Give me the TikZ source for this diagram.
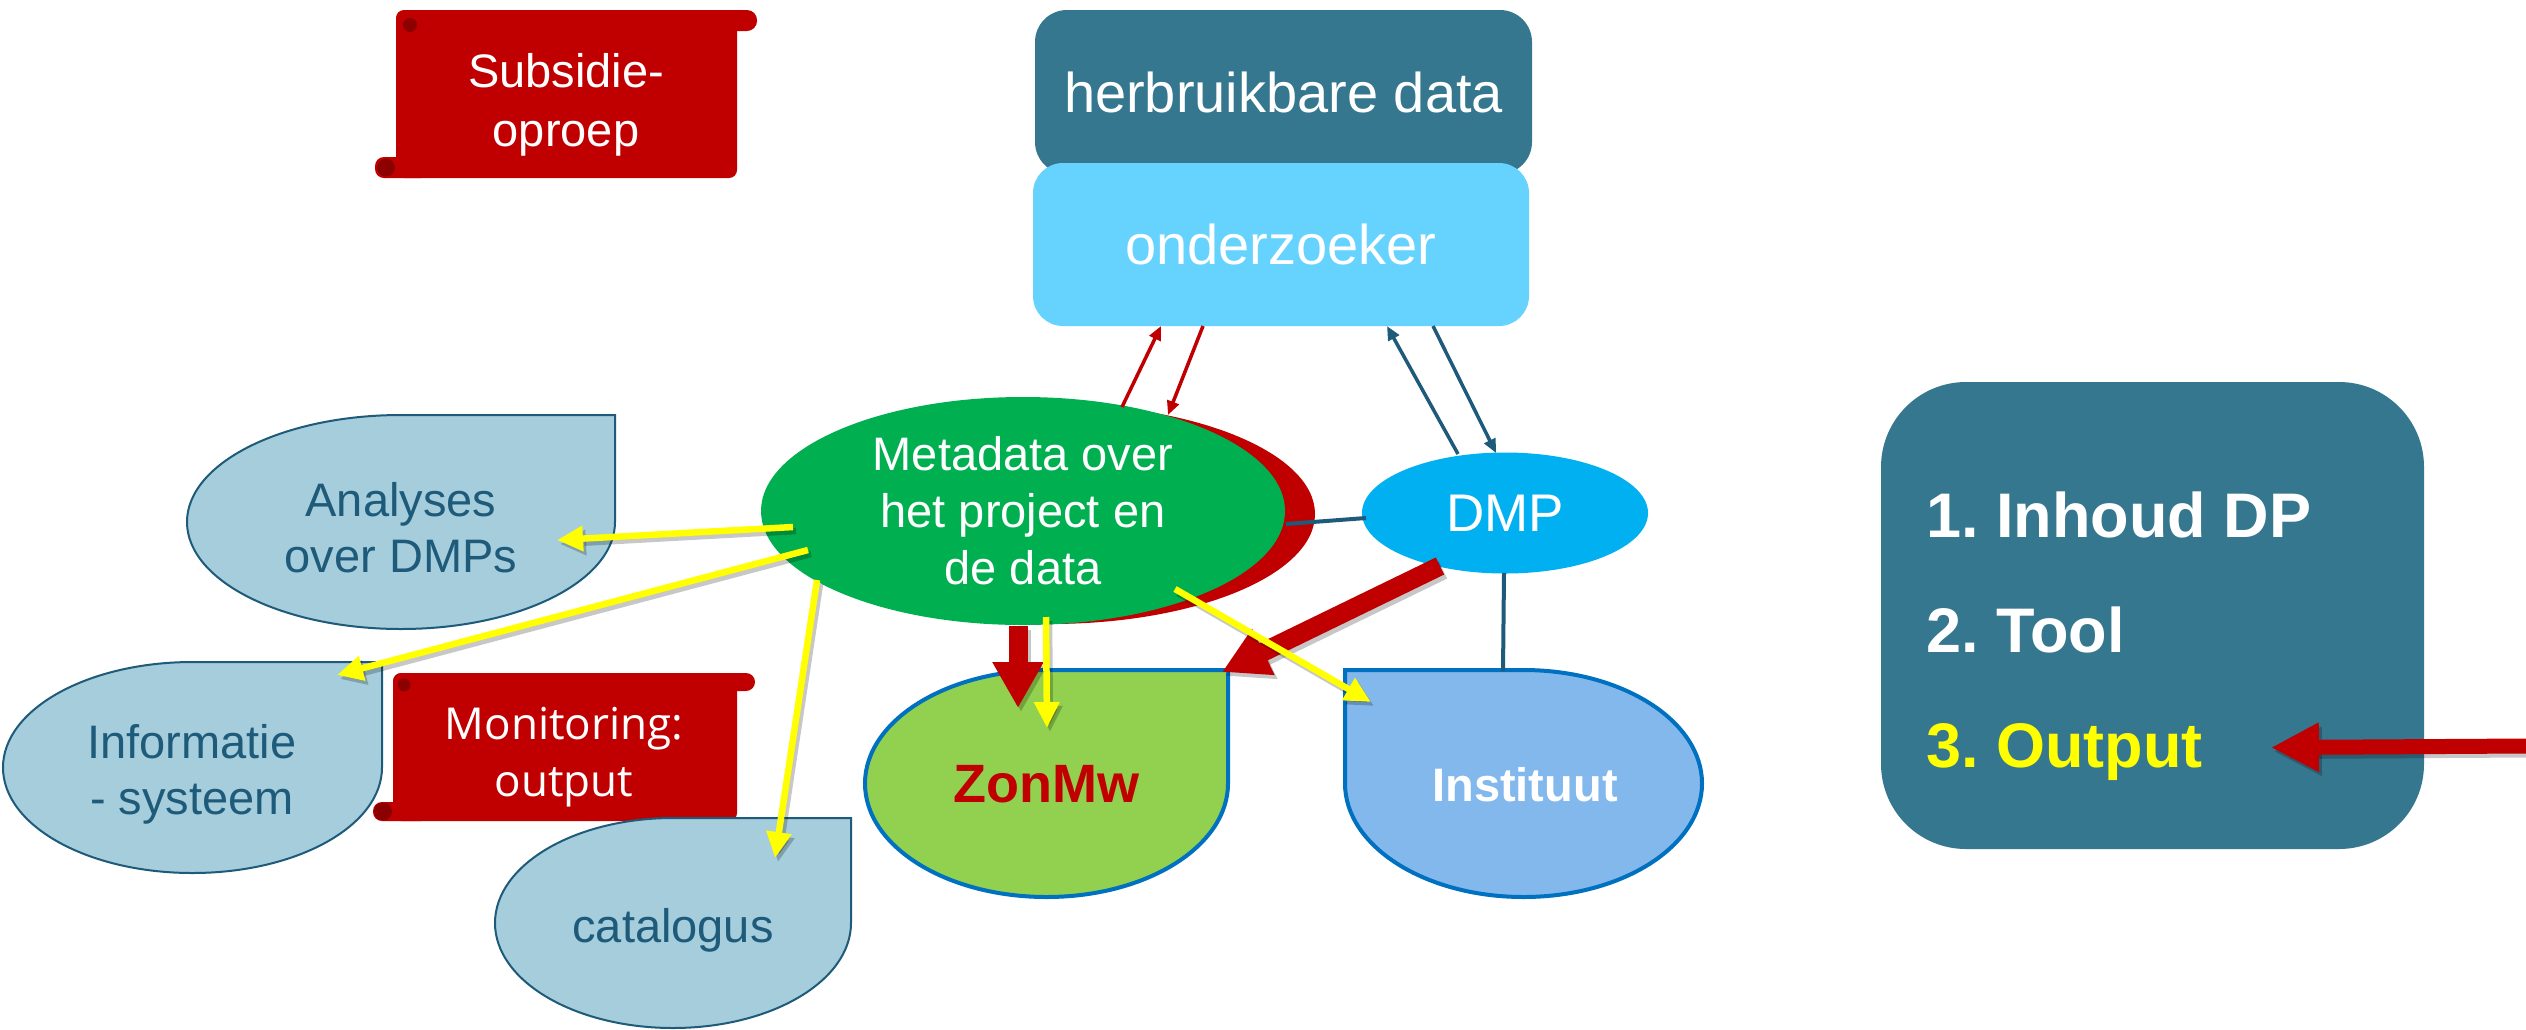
\documentclass[tikz,border=0pt]{standalone}
\usepackage{fontspec}
\setmainfont{Liberation Sans}
\newfontfamily\osans{Open Sans}
\usetikzlibrary{arrows.meta,shapes.geometric,calc}
\frenchspacing
\definecolor{teal1}{RGB}{53,119,143}
\definecolor{skyb}{RGB}{102,211,255}
\definecolor{gr}{RGB}{0,176,80}
\definecolor{rd}{RGB}{192,0,0}
\definecolor{drd}{RGB}{140,0,0}
\definecolor{dmpc}{RGB}{0,176,240}
\definecolor{lgreen}{RGB}{146,208,80}
\definecolor{instc}{RGB}{131,184,236}
\definecolor{bord}{RGB}{0,112,192}
\definecolor{lbl}{RGB}{165,205,220}
\definecolor{dteal}{RGB}{30,90,122}
\definecolor{ylw}{RGB}{255,255,0}
\begin{document}
\begin{tikzpicture}[x=1pt,y=-1pt,
  lbshape/.style={fill=lbl, draw=dteal, line width=2pt},
  bigshape/.style={draw=bord, line width=4pt},
  lbtext/.style={text=dteal, align=center, inner sep=0pt, font=\fontsize{47}{56}\selectfont},
  stext/.style={text=white, align=center, inner sep=0pt},
  ptext/.style={text=white, inner sep=0pt, font=\bfseries\fontsize{63}{70}\selectfont},
  yarr/.style={draw=ylw, line width=6.5pt, -{Triangle[length=26pt,width=24pt]}},
  rthick/.style={draw=rd, line width=19pt, -{Triangle[length=46pt,width=48pt]}},
  rarr/.style={draw=rd, line width=15pt, -{Triangle[length=48pt,width=46pt]}},
  thinr/.style={draw=rd, line width=3.5pt, -{Triangle[length=14pt,width=12pt]}},
  thint/.style={draw=dteal, line width=3.5pt, -{Triangle[length=14pt,width=12pt]}},
  tline/.style={draw=dteal, line width=4pt},
  shad/.style={draw=black, opacity=0.22, transform canvas={shift={(3pt,-4pt)}}}
]
\useasboundingbox (0,0) rectangle (2526,1029);
\fill[white] (0,0) rectangle (2526,1029);

% Subsidie scroll
\fill[rd, rounded corners=8pt] (396,10) rectangle (737,178);
\fill[rd, rounded corners=10pt] (396,10) rectangle (757,31);
\fill[rd, rounded corners=9pt] (375,157) rectangle (430,178);
\fill[drd] (386,167.5) circle[radius=9];
\fill[drd] (410,25) circle[radius=7];
\node[stext, font=\fontsize{47}{59}\selectfont] (subs) at (566,105) {Subsidie-\\oproep};

% top boxes
\node[fill=teal1, rounded corners=32pt, minimum width=497pt, minimum height=164pt, inner sep=0pt,
      text=white, font=\fontsize{56}{60}\selectfont] (herb) at (1283.5,92) {herbruikbare data};
\node[fill=skyb, rounded corners=30pt, minimum width=496pt, minimum height=163pt, inner sep=0pt,
      text=white, font=\fontsize{56}{60}\selectfont] (onder) at (1281,244.5) {onderzoeker};

% metadata + DMP
\fill[rd] (1050,514) ellipse[x radius=265, y radius=110];
\node[ellipse, fill=gr, minimum width=524pt, minimum height=228pt, inner sep=0pt, text=white,
      align=center, font=\fontsize{47}{57}\selectfont] (meta) at (1023,511) {Metadata over\\het project en\\de data};
\node[ellipse, fill=dmpc, minimum width=286pt, minimum height=121pt, inner sep=0pt, text=white,
      font=\fontsize{53}{60}\selectfont] (dmp) at (1505,513) {DMP};

% light blue shapes
\path[lbshape] (615,415) -- (615,522) arc[start angle=0, end angle=270, x radius=214, y radius=107] -- cycle;
\node[lbtext] (analyses) at (401,528) {Analyses\\over DMPs};

\path[lbshape] (382,662) -- (382,767.5) arc[start angle=0, end angle=270, x radius=189.5, y radius=105.5] -- cycle;
\node[lbtext] (info) at (192,774) {Informatie\\- systeem};

% Monitoring scroll
\fill[rd, rounded corners=8pt] (393,673) rectangle (737,821);
\fill[rd, rounded corners=9pt] (393,673) rectangle (755,691);
\fill[rd, rounded corners=9pt] (373,802) rectangle (430,821);
\fill[drd] (383,811.5) circle[radius=9];
\fill[drd] (404,685) circle[radius=6.5];
\node[stext, font=\osans\fontsize{44}{57}\selectfont] (monit) at (564,757) {Monitoring:\\output};

\path[lbshape] (851,818) -- (851,923) arc[start angle=0, end angle=270, x radius=178, y radius=105] -- cycle;
\node[lbtext] (catalog) at (673,930) {catalogus};

% ZonMw and Instituut
\path[fill=lgreen, bigshape] (1228,670) -- (1228,783.5) arc[start angle=0, end angle=270, x radius=181.5, y radius=113.5] -- cycle;
\node[text=rd, font=\bfseries\fontsize{54}{60}\selectfont, inner sep=0pt] (zonmw) at (1046,784) {ZonMw};

\path[fill=instc, bigshape] (1345,670) -- (1523.5,670) arc[start angle=270, end angle=540, x radius=178.5, y radius=113.5] -- cycle;
\node[text=white, font=\bfseries\fontsize{47}{55}\selectfont, inner sep=0pt] (inst) at (1525,785) {Instituut};

% right panel
\node[fill=teal1, rounded corners=85pt, minimum width=543pt, minimum height=467pt, inner sep=0pt] (panel) at (2152.5,615.5) {};
\node[ptext, anchor=base west] (t1) at (1926,537) {1. Inhoud DP};
\node[ptext, anchor=base west] (t2) at (1926,652) {2. Tool};
\node[ptext, anchor=base west, text=ylw] (t3) at (1926,767) {3. Output};
\coordinate (rstart) at (2526,746);

% connectors
\draw[tline] ($(meta)+(263,13)$) -- ($(dmp)+(-139,5)$);
\draw[tline] ($(dmp)+(-1,60)$) -- ($(inst)+(-22,-114)$);
\draw[thinr] ($(meta)+(99,-104)$) -- ($(onder)+(-120,81.5)$);
\draw[thinr] ($(onder)+(-78,81.5)$) -- ($(meta)+(145,-96)$);
\draw[thint] ($(dmp)+(-47,-59)$) -- ($(onder)+(106,81.5)$);
\draw[thint] ($(onder)+(152,81.5)$) -- ($(dmp)+(-9,-60)$);

\draw[rthick, shad] ($(meta)+(-5,115)$) -- ($(zonmw)+(-28,-76)$);
\draw[rthick] ($(meta)+(-5,115)$) -- ($(zonmw)+(-28,-76)$);
\draw[rthick, shad] ($(dmp)+(-65,53)$) -- ($(zonmw)+(176,-112)$);
\draw[rthick] ($(dmp)+(-65,53)$) -- ($(zonmw)+(176,-112)$);
\draw[rarr, shad] (rstart) -- ($(t3.east)+(68,-4)$);
\draw[rarr] (rstart) -- ($(t3.east)+(68,-4)$);

\draw[yarr, shad] ($(meta)+(-230,16)$) -- ($(analyses)+(156,12)$);
\draw[yarr] ($(meta)+(-230,16)$) -- ($(analyses)+(156,12)$);
\draw[yarr, shad] ($(meta)+(-215,39)$) -- ($(info)+(145,-99)$);
\draw[yarr] ($(meta)+(-215,39)$) -- ($(info)+(145,-99)$);
\draw[yarr, shad] ($(meta)+(-206,69)$) -- ($(catalog)+(102,-72)$);
\draw[yarr] ($(meta)+(-206,69)$) -- ($(catalog)+(102,-72)$);
\draw[yarr, shad] ($(meta)+(23,106)$) -- ($(zonmw)+(1,-56)$);
\draw[yarr] ($(meta)+(23,106)$) -- ($(zonmw)+(1,-56)$);
\draw[yarr, shad] ($(meta)+(152,78)$) -- ($(inst)+(-154,-83)$);
\draw[yarr] ($(meta)+(152,78)$) -- ($(inst)+(-154,-83)$);
\end{tikzpicture}
\end{document}
